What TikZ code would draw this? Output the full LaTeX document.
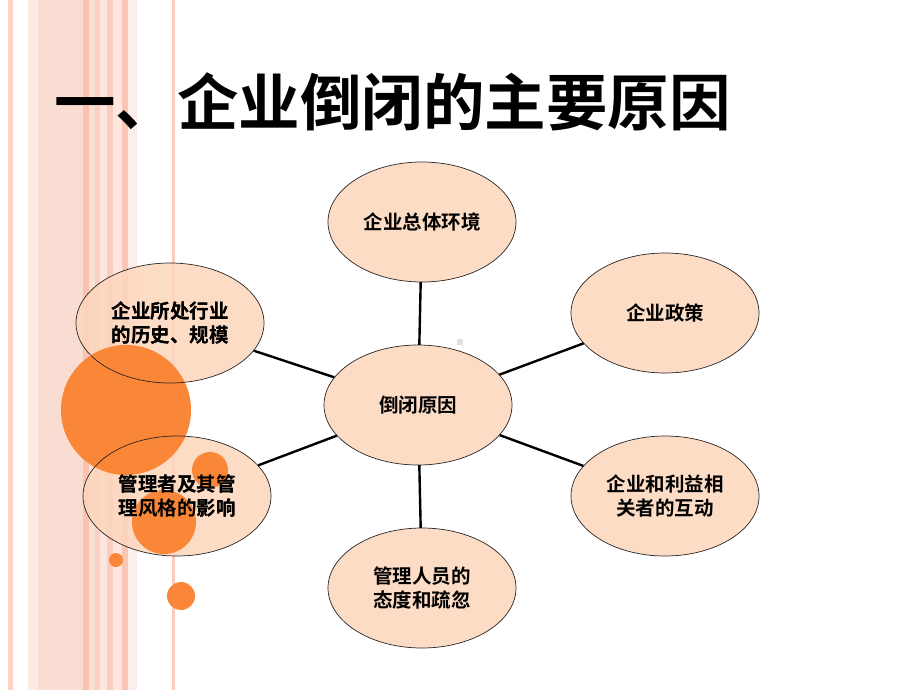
\documentclass[tikz,border=0pt]{standalone}
\usepackage{fontspec}
\setmainfont{Noto Sans CJK SC}[BoldFont={Noto Sans CJK SC Bold}]
\usetikzlibrary{shapes.geometric}
\definecolor{peach}{HTML}{FDD6BD}
\definecolor{orng}{HTML}{FA8638}
\tikzset{
  bubble/.style={ellipse, fill=peach, fill opacity=0.85, text opacity=1, draw=none, minimum width=188pt, minimum height=120pt, inner sep=0pt, align=center, font=\fontsize{19.5}{24.5}\selectfont\bfseries},
  rim/.style={ellipse, draw=black!85, line width=0.7pt, minimum width=188pt, minimum height=120pt, inner sep=0pt},
  link/.style={draw=black, line width=2.4pt},
  dot/.style={fill=orng, draw=none},
  stripe/.style={draw=none}
}
\begin{document}
\begin{tikzpicture}[x=1pt,y=-1pt]
\useasboundingbox[fill=white] (0,0) rectangle (920,690);
% stripes
\fill[stripe,fill={rgb,255:red,252;green,211;blue,196}] (8,0) rectangle (13,690);
\fill[stripe,fill={rgb,255:red,253;green,234;blue,227}] (28,0) rectangle (38,690);
\fill[stripe,fill={rgb,255:red,250;green,221;blue,210}] (38,0) rectangle (83,690);
\fill[stripe,fill={rgb,255:red,251;green,195;blue,173}] (83,0) rectangle (89,690);
\fill[stripe,fill={rgb,255:red,252;green,224;blue,214}] (89,0) rectangle (95,690);
\fill[stripe,fill={rgb,255:red,251;green,208;blue,194}] (95,0) rectangle (100,690);
\fill[stripe,fill={rgb,255:red,253;green,230;blue,222}] (100,0) rectangle (107,690);
\fill[stripe,fill={rgb,255:red,251;green,205;blue,189}] (107,0) rectangle (113,690);
\fill[stripe,fill={rgb,255:red,253;green,231;blue,224}] (113,0) rectangle (122,690);
\fill[stripe,fill={rgb,255:red,251;green,199;blue,180}] (122,0) rectangle (128,690);
\fill[stripe,fill={rgb,255:red,254;green,238;blue,233}] (128,0) rectangle (137,690);
\fill[stripe,fill={rgb,255:red,251;green,205;blue,190}] (172,0) rectangle (175,690);
% title
\node[anchor=west, inner sep=0pt, font=\fontsize{61.5}{62}\selectfont\bfseries] (title) at (54,102) {一、企业倒闭的主要原因};
% grey mark
\fill[black!12] (457,339) rectangle (463,345);
% ellipse fills
\node[bubble] (c)  at (418,405) {倒闭原因};
\node[bubble] (t)  at (422,222) {企业总体环境};
\node[bubble] (ru) at (665,313) {企业政策};
\node[bubble] (lu) at (170,323) {企业所处行业\\的历史、规模};
\node[bubble] (ll) at (177,496) {管理者及其管\\理风格的影响};
\node[bubble] (rl) at (665,496) {企业和利益相\\关者的互动};
\node[bubble] (b)  at (422,588) {管理人员的\\态度和疏忽};
% orange dots
\fill[dot] (126,410) circle (65);
\fill[dot] (164,522) circle (32);
\fill[dot] (210,470) circle (18);
\fill[dot] (116,560) circle (7);
\fill[dot] (181,596) circle (14);
% rims
\foreach \n in {c,t,ru,lu,ll,rl,b} \node[rim] (\n r) at (\n.center) {};
% labels on top
\node[inner sep=0pt, align=center, font=\fontsize{19.5}{24.5}\selectfont\bfseries] (lul) at (lu.center) {企业所处行业\\的历史、规模};
\node[inner sep=0pt, align=center, font=\fontsize{19.5}{24.5}\selectfont\bfseries] (lll) at (ll.center) {管理者及其管\\理风格的影响};
% links
\draw[link] (c) -- (t);
\draw[link] (c) -- (ru);
\draw[link] (c) -- (lu);
\draw[link] (c) -- (ll);
\draw[link] (c) -- (rl);
\draw[link] (c) -- (b);
\end{tikzpicture}
\end{document}
